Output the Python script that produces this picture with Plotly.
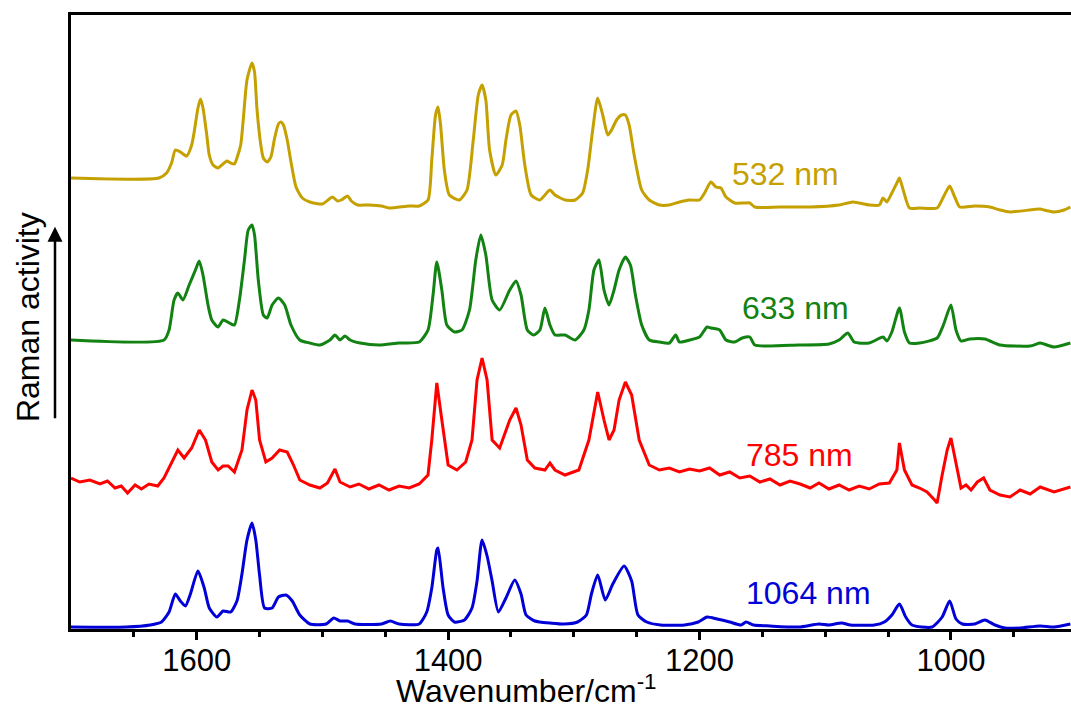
import plotly.graph_objects as go

# ---- data (wavenumber in cm^-1, intensity in arbitrary stacked units) ----
wn_532 = [1700,1630,1624,1620,1617,1613,1608,1604,1602,1599,1597,1595,1592,1590,1587,1583,1580,1576,1573,1570,
          1568,1565,1563,1560,1556,1554,1552,1549,1547,1544,1541,1538,1535,1533,1531,1528,1525,1521,1516,1510,
          1500,1492,1488,1485,1480,1477,1472,1463,1453,1447,1431,1423,1416,1413,1410,1408,1406,1403,1399,1391,
          1385,1380,1376,1373,1370,1367,1362,1357,1354,1350,1346,1343,1339,1334,1327,1323,1319,1315,1307,1299,
          1293,1289,1285,1281,1277,1273,1270,1266,1262,1259,1256,1252,1246,1240,1232,1224,1216,1208,1200,1196,
          1191,1187,1183,1179,1172,1164,1160,1156,1136,1112,1089,1078,1065,1057,1054,1051,1047,1043,1041,1038,
          1033,1025,1011,1006,1001,997,993,981,969,961,953,929,926,918,910,905]
int_532 = [451,451,456,466,479,477,473,484,497,521,530,521,494,474,464,461,464,468,466,465,
           471,484,509,549,566,557,519,484,471,467,472,491,505,507,504,489,467,442,431,427,
           425,432,428,429,433,428,424,424,423,421,423,423,429,469,514,522,504,459,434,429,
           439,489,534,544,529,479,454,464,489,514,518,504,464,434,429,434,439,434,429,429,
           436,459,499,531,514,494,499,509,514,514,504,474,439,429,424,424,427,429,429,436,
           447,442,441,432,426,426,426,422,422,422,424,427,424,424,431,427,436,446,451,439,
           421,421,421,432,443,432,422,423,422,419,417,420,419,417,419,422]

wn_633 = [1700,1626,1622,1618,1615,1611,1606,1601,1598,1595,1591,1588,1583,1579,1574,1570,1566,1562,1559,1556,
          1554,1551,1547,1544,1540,1535,1530,1525,1518,1510,1502,1494,1490,1486,1482,1478,1470,1455,1439,1423,
          1416,1412,1409,1405,1401,1395,1389,1383,1378,1374,1370,1365,1359,1351,1346,1342,1337,1332,1327,1323,
          1319,1315,1307,1299,1292,1288,1284,1280,1276,1272,1268,1264,1259,1255,1251,1246,1240,1232,1224,1219,
          1216,1208,1200,1194,1191,1184,1179,1172,1166,1160,1156,1121,1097,1089,1082,1077,1065,1054,1051,1047,
          1041,1037,1033,1025,1011,1006,1000,996,992,985,973,961,937,929,926,918,905]
int_633 = [289,289,299,329,336,329,344,359,368,354,324,309,302,309,306,304,329,369,399,404,
           394,349,314,311,324,331,324,304,289,286,284,289,294,289,293,289,286,284,286,287,
           299,334,367,339,304,297,299,319,369,394,374,329,319,339,348,334,299,294,299,321,
           304,294,294,289,299,319,359,369,339,324,339,359,372,364,334,304,289,287,286,294,
           287,289,292,302,301,299,289,287,291,292,284,284,285,289,296,287,286,292,288,297,
           321,297,286,286,291,304,324,299,288,290,290,284,283,286,285,282,286]

wn_785 = [1700,1693,1685,1677,1671,1665,1660,1655,1649,1644,1638,1631,1626,1620,1615,1610,1604,1598,1593,1588,
          1583,1579,1575,1570,1564,1560,1556,1553,1550,1545,1540,1534,1528,1523,1518,1510,1502,1496,1490,1486,
          1478,1471,1463,1455,1447,1439,1431,1423,1416,1413,1409,1405,1400,1393,1386,1381,1377,1373,1369,1365,
          1359,1351,1346,1342,1337,1331,1323,1319,1315,1307,1296,1288,1281,1276,1272,1268,1264,1259,1254,1248,
          1240,1232,1224,1216,1208,1200,1192,1184,1176,1168,1160,1152,1144,1136,1128,1120,1112,1105,1097,1089,
          1081,1073,1065,1057,1049,1043,1041,1037,1031,1025,1019,1013,1011,1007,1003,1000,996,992,988,984,
          979,974,969,961,953,945,937,929,918,905]
int_785 = [151,147,149,145,148,141,143,136,144,140,145,143,151,167,179,171,181,199,189,167,
           159,163,163,157,179,219,239,229,189,167,171,179,177,164,149,144,141,146,160,147,
           142,145,140,144,139,143,141,145,154,189,246,209,164,159,167,189,249,271,249,189,
           181,209,221,204,169,161,159,166,159,154,159,189,237,209,189,199,229,247,234,189,
           164,159,161,157,160,158,161,154,157,151,153,147,150,144,148,145,141,146,140,144,
           139,143,140,145,146,159,186,159,144,141,137,129,126,154,179,191,164,141,144,139,
           147,151,139,134,132,139,135,142,137,142]

wn_1064 = [1700,1656,1637,1628,1622,1617,1613,1609,1605,1599,1594,1590,1584,1579,1573,1568,1564,1560,1556,1553,
           1550,1546,1540,1535,1529,1524,1518,1510,1497,1491,1486,1480,1474,1453,1446,1439,1423,1417,1413,1409,
           1408,1404,1400,1395,1387,1381,1377,1373,1369,1365,1360,1354,1347,1342,1338,1331,1327,1319,1308,1297,
           1290,1286,1281,1275,1269,1260,1254,1249,1242,1231,1212,1201,1194,1186,1176,1167,1163,1157,1144,1121,
           1105,1097,1087,1080,1061,1053,1047,1041,1036,1031,1015,1007,1001,996,991,981,973,965,957,945,
           929,918,905]
int_1064 = [2,2,4,7,17,35,28,23,35,58,41,21,12,18,17,28,55,89,106,89,
            54,21,21,32,34,28,14,5,5,11,8,8,5,5,8,5,5,17,41,79,
            81,41,14,7,9,21,48,89,73,48,17,31,49,35,14,8,7,6,5,7,
            14,35,54,29,45,63,48,14,7,4,4,7,12,10,7,4,7,4,3,2,
            5,4,6,4,4,7,14,25,12,4,2,12,28,10,5,5,9,4,1,1,
            3,2,5]

labels = ["532 nm", "633 nm", "785 nm", "1064 nm"]
colors = ["rgb(196,160,0)", "rgb(18,130,18)", "rgb(255,0,0)", "rgb(0,0,215)"]
label_pos_wn = [1176, 1168, 1165, 1165]
label_pos_int = [455, 321, 174, 36]
tick_vals = [1600, 1400, 1200, 1000]
tick_text = ["1600", "1400", "1200", "1000"]
minor_vals = [1650, 1550, 1500, 1450, 1350, 1300, 1250, 1150, 1100, 1050, 950]

series = [(wn_532, int_532, "spline"), (wn_633, int_633, "spline"),
          (wn_785, int_785, "linear"), (wn_1064, int_1064, "spline")]

FONT = "Liberation Sans, Arial, sans-serif"
fig = go.Figure()
for (x, y, shape), name, col in zip(series, labels, colors):
    fig.add_trace(go.Scatter(x=x, y=y, mode="lines", name=name,
                             line=dict(color=col, width=3, shape=shape, smoothing=0.6),
                             showlegend=False, hoverinfo="skip"))

for name, col, xw, yi in zip(labels, colors, label_pos_wn, label_pos_int):
    fig.add_annotation(x=xw, y=yi, text=name, showarrow=False, xanchor="left", yanchor="middle",
                       font=dict(family=FONT, size=32, color=col))

# y-axis title with arrow
fig.add_annotation(xref="paper", yref="paper", x=-0.043, y=0.508, text="Raman activity",
                   textangle=-90, showarrow=False, xanchor="center", yanchor="middle",
                   font=dict(family=FONT, size=32, color="black"))
fig.add_annotation(xref="paper", yref="paper", x=-0.016, y=0.655, ax=0, ay=193,
                   axref="pixel", ayref="pixel", text="", showarrow=True,
                   arrowhead=2, arrowsize=1.2, arrowwidth=2.5, arrowcolor="black")
# x-axis title
fig.add_annotation(xref="paper", yref="paper", x=0.455, y=-0.097, text="Wavenumber/cm<sup>-1</sup>",
                   showarrow=False, xanchor="center", yanchor="middle",
                   font=dict(family=FONT, size=32, color="black"))

fig.update_layout(
    width=1071, height=708,
    margin=dict(l=71, r=0, t=15, b=79),
    paper_bgcolor="white", plot_bgcolor="white",
    font=dict(family=FONT, size=30, color="black"),
    xaxis=dict(range=[1700, 904.5], showgrid=False, zeroline=False,
               showline=True, linecolor="black", linewidth=3, mirror=True,
               ticks="outside", ticklen=8, tickwidth=2.5, tickcolor="black",
               tickvals=tick_vals, ticktext=tick_text, ticklabelstandoff=-6,
               tickfont=dict(family=FONT, size=31),
               minor=dict(ticks="outside", ticklen=5, tickwidth=2.5, tickcolor="black",
                          tickvals=minor_vals)),
    yaxis=dict(range=[0, 614], showgrid=False, zeroline=False, showticklabels=False,
               showline=True, linecolor="black", linewidth=3, ticks=""),
)

# remove the page's default body margin so the figure fills the window exactly
fig.write_html("out.html", config={"displayModeBar": False},
               post_script="document.body.style.margin='0';document.body.style.overflow='hidden';")
